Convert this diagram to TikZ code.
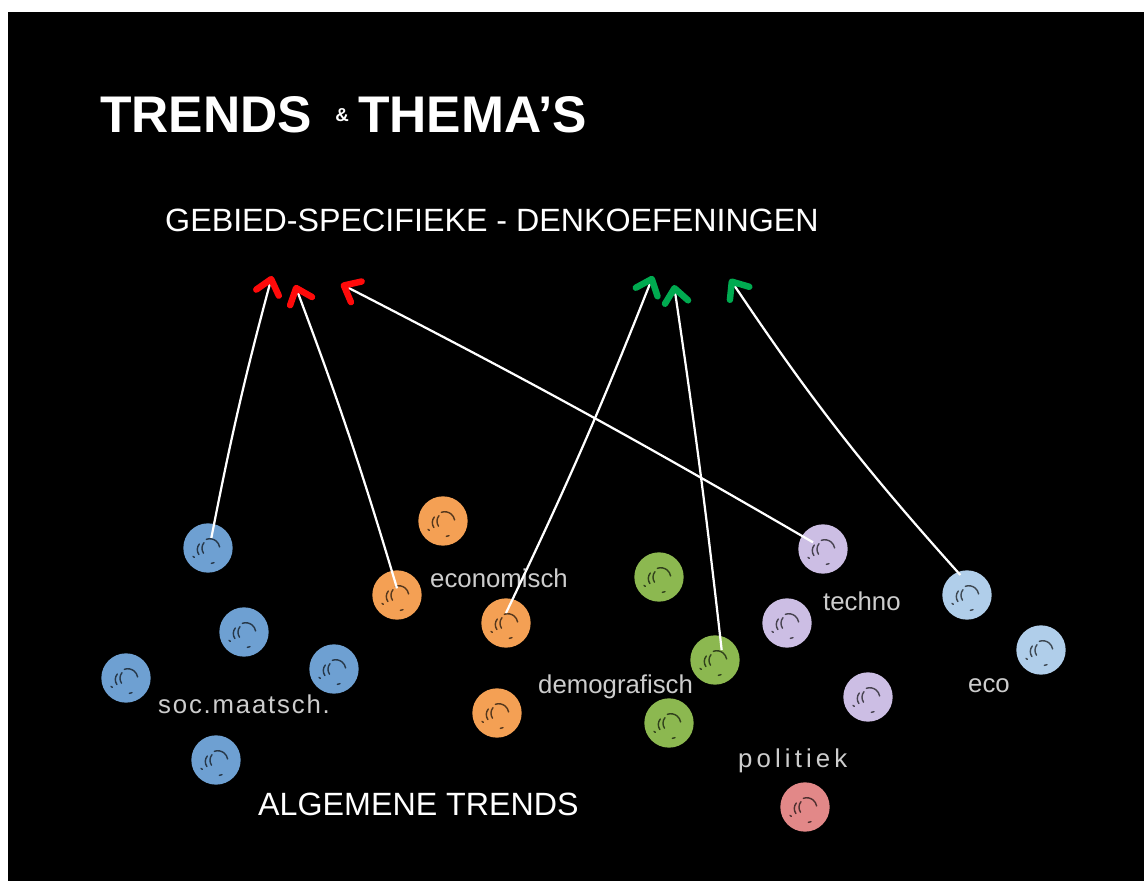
\documentclass[tikz,border=0pt]{standalone}
\usepackage{fontspec}
\setmainfont{Liberation Sans}
\usetikzlibrary{arrows.meta}
\definecolor{socblue}{RGB}{110,160,210}
\definecolor{econorange}{RGB}{244,160,84}
\definecolor{demogreen}{RGB}{140,184,80}
\definecolor{techpurple}{RGB}{204,190,228}
\definecolor{ecoblue}{RGB}{176,206,234}
\definecolor{polred}{RGB}{226,136,136}
\definecolor{tipred}{RGB}{255,10,10}
\definecolor{tipgreen}{RGB}{0,170,80}
\definecolor{labelgray}{RGB}{205,205,205}
\begin{document}
\begin{tikzpicture}[x=0.03cm, y=-0.03cm,
        ball/.style={circle, fill=#1, minimum size=1.48cm, inner sep=0pt,
            path picture={\draw[#1!35!black, line width=1.2pt, line cap=round]
                ([shift={(-2.6mm,1.2mm)}]path picture bounding box.center) arc[start angle=140, end angle=215, radius=2.6mm]
                ([shift={(-1.2mm,1.6mm)}]path picture bounding box.center) arc[start angle=140, end angle=215, radius=2.6mm]
                ([shift={(-0.5mm,2.6mm)}]path picture bounding box.center) arc[start angle=110, end angle=10, radius=3mm]
                ([shift={(-4.5mm,-2.5mm)}]path picture bounding box.center) -- ++(0.4mm,-0.3mm)
                ([shift={(1mm,-4.6mm)}]path picture bounding box.center) -- ++(0.8mm,0.2mm);}},
        lbl/.style={text=labelgray, font=\fontsize{22}{24}\selectfont, anchor=base west, inner sep=0pt},
        caps/.style={text=white, font=\fontsize{27.5}{30}\selectfont, anchor=base west, inner sep=0pt},
        link/.style={draw=white, line width=1.9pt},
        redtip/.style={-{Straight Barb[color=tipred, round, line width=5.5pt, length=4.2mm, width=7mm]}},
        greentip/.style={-{Straight Barb[color=tipgreen, round, line width=5.5pt, length=4.2mm, width=7mm]}}]
    \useasboundingbox (0,0) rectangle (1144,881);
    \fill[white] (0,0) rectangle (1144,881);
    \fill[black] (8,12) rectangle (1144,881);

    % titels
    \node[anchor=base west, inner sep=0pt, text=white, font=\bfseries\fontsize{44}{46}\selectfont] (title) at (100,133)
        {TRENDS\hspace{0.45em}\raisebox{10pt}{\fontsize{16}{16}\selectfont\&}\hspace{0.18em}THEMA'S};
    \node[caps] (sub) at (165,232) {GEBIED-SPECIFIEKE - DENKOEFENINGEN};
    \node[caps] (alg) at (258,815) {ALGEMENE TRENDS};

    % pijlpunten
    \coordinate (r1) at (272,276);
    \coordinate (r2) at (295,285);
    \coordinate (r3) at (341,284);
    \coordinate (g1) at (653,276);
    \coordinate (g2) at (674,285);
    \coordinate (g3) at (730,279);

    % bollen
    \node[ball=socblue] (soc1) at (208,548) {};
    \node[ball=socblue] (soc2) at (244,632) {};
    \node[ball=socblue] (soc3) at (126,678) {};
    \node[ball=socblue] (soc4) at (334,669) {};
    \node[ball=socblue] (soc5) at (216,760) {};
    \node[ball=econorange] (econ1) at (443,521) {};
    \node[ball=econorange] (econ2) at (397,595) {};
    \node[ball=econorange] (econ3) at (506,623) {};
    \node[ball=econorange] (econ4) at (497,713) {};
    \node[ball=demogreen] (dem1) at (659,577) {};
    \node[ball=demogreen] (dem2) at (715,660) {};
    \node[ball=demogreen] (dem3) at (669,723) {};
    \node[ball=techpurple] (tech1) at (823,549) {};
    \node[ball=techpurple] (tech2) at (787,623) {};
    \node[ball=techpurple] (tech3) at (868,697) {};
    \node[ball=ecoblue] (eco1) at (967,595) {};
    \node[ball=ecoblue] (eco2) at (1041,650) {};
    \node[ball=polred] (pol1) at (805,807) {};

    % labels
    \node[lbl] (leconom) at (430,587) {economisch};
    \node[lbl, font=\fontsize{22}{24}\selectfont\addfontfeature{LetterSpace=7}] (lsoc) at (158,713) {soc.maatsch.};
    \node[lbl] (ldemo) at (538,693) {demografisch};
    \node[lbl] (ltech) at (823,610) {techno};
    \node[lbl] (leco) at (968,692) {eco};
    \node[lbl, font=\fontsize{22}{24}\selectfont\addfontfeature{LetterSpace=16}] (lpol) at (738,767) {politiek};

    % verbindingen
    \draw[link, redtip] ([shift={(1mm,3mm)}]soc1.center) to[bend left=2] (r1);
    \draw[link, redtip] ([shift={(0mm,2mm)}]econ2.center) to[bend right=2] (r2);
    \draw[link, redtip] ([shift={(-3mm,2mm)}]tech1.center) to[bend right=1.5] (r3);
    \draw[link, greentip] ([shift={(0mm,3mm)}]econ3.center) to[bend right=2] (g1);
    \draw[link, greentip] ([shift={(2mm,3mm)}]dem2.center) to[bend right=1] (g2);
    \draw[link, greentip] ([shift={(-2mm,6mm)}]eco1.center) to[bend left=4] (g3);
\end{tikzpicture}
\end{document}
